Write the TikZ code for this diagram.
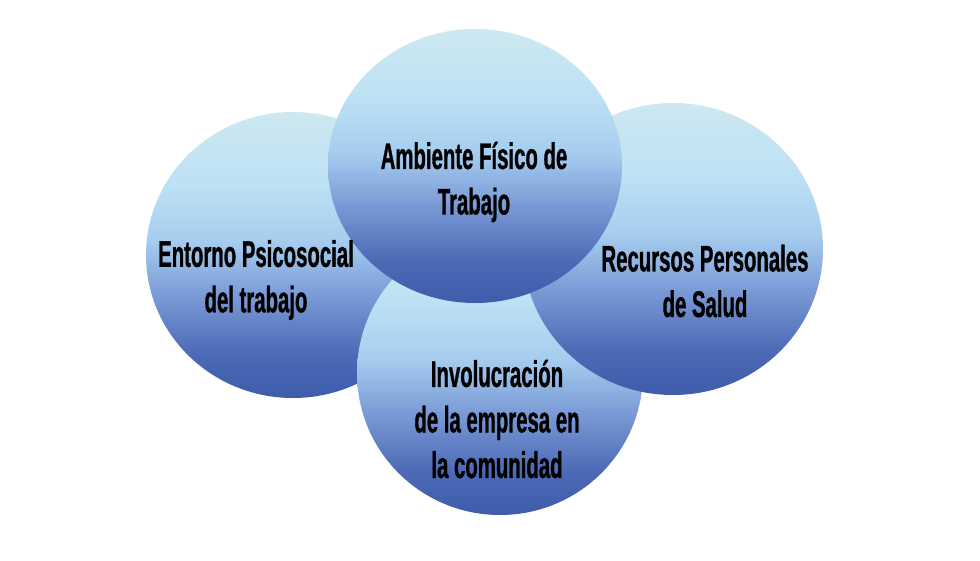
\documentclass[tikz,border=0pt]{standalone}
\usepackage{fontspec}
\usetikzlibrary{shapes.geometric}
\newfontfamily\lbl{Liberation Sans}[FakeStretch=0.55,FakeBold=0.8]
\definecolor{cA}{HTML}{3F5CAB}
\definecolor{cB}{HTML}{4B69B5}
\definecolor{cC}{HTML}{7898D5}
\definecolor{cD}{HTML}{A6CDEF}
\definecolor{cE}{HTML}{BDE1F4}
\definecolor{cF}{HTML}{CDE8F0}
\pgfdeclareverticalshading{blueball}{100bp}{color(0bp)=(cA); color(25bp)=(cA); color(32.5bp)=(cB); color(42.5bp)=(cC); color(52.5bp)=(cD); color(62.5bp)=(cE); color(75bp)=(cF); color(100bp)=(cF)}
\begin{document}
\begin{tikzpicture}[x=1pt,y=-1pt,
  ball/.style={ellipse, inner sep=0pt, outer sep=0pt, shading=blueball},
  lab/.style={align=center, inner sep=0pt, font=\lbl\bfseries\fontsize{37}{45.5}\selectfont, text=black}]
\useasboundingbox[fill=white] (0,0) rectangle (980,560);
\node[ball, minimum width=294pt, minimum height=286pt] (cleft) at (293,255) {};
\node[ball, minimum width=286pt, minimum height=284pt] (cbottom) at (500,373) {};
\node[ball, minimum width=300pt, minimum height=292pt] (cright) at (673,249) {};
\node[ball, minimum width=294pt, minimum height=274pt] (ctop) at (475,166) {};
\node[lab] (tleft) at (256,280) {Entorno Psicosocial\\del trabajo};
\node[lab] (ttop) at (474,182) {Ambiente Físico de\\Trabajo};
\node[lab] (tright) at (705,281) {Recursos Personales\\de Salud};
\node[lab] (tbottom) at (497,419) {Involucración\\de la empresa en\\la comunidad};
\end{tikzpicture}
\end{document}
